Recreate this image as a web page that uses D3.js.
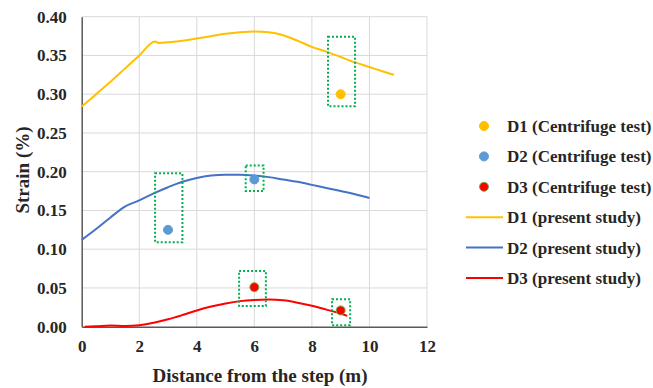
<!DOCTYPE html>
<html>
<head>
<meta charset="utf-8">
<script src="https://cdn.jsdelivr.net/npm/d3@7"></script>
<style>
  body { margin: 0; background: #fff; }
</style>
</head>
<body>
<svg id="chart" width="653" height="388"></svg>
<script>
// series data (distance m, strain %)
var d1Line = [[0,0.284],[0.5,0.300],[1,0.316],[1.5,0.333],[2,0.350],[2.55,0.368],[2.7,0.366],[3,0.367],[3.5,0.369],[4,0.372],[4.5,0.375],[5,0.378],[5.5,0.380],[6,0.381],[6.5,0.380],[7,0.376],[7.5,0.369],[8,0.361],[8.5,0.355],[9,0.348],[9.5,0.341],[10,0.335],[10.5,0.329],[10.85,0.325]];
var d2Line = [[0,0.112],[0.5,0.126],[1,0.141],[1.5,0.155],[2,0.163],[2.5,0.172],[3,0.180],[3.5,0.187],[4,0.192],[4.5,0.195],[5,0.196],[5.5,0.196],[6,0.195],[6.5,0.193],[7,0.190],[7.5,0.187],[8,0.183],[8.5,0.179],[9,0.175],[9.5,0.171],[10,0.166]];
var d3Line = [[0.1,0],[0.5,0.0005],[1,0.0015],[1.5,0.001],[2,0.002],[2.5,0.005],[3,0.0095],[3.5,0.015],[4,0.021],[4.5,0.026],[5,0.030],[5.5,0.033],[6,0.0345],[6.5,0.035],[7,0.034],[7.5,0.031],[8,0.027],[8.5,0.022],[9,0.017],[9.23,0.014]];

var d1Test = [[9,0.300]];
var d2Test = [[3,0.125],[6,0.190]];
var d3Test = [[6,0.051],[9,0.021]];

// dotted highlight boxes [x0, x1, y0, y1]
var boxes = [[8.56,9.5,0.2845,0.374],[2.55,3.5,0.109,0.198],[5.7,6.32,0.175,0.208],[5.47,6.4,0.0267,0.072],[8.7,9.33,0.002,0.0354]];

var xTicks = [0,2,4,6,8,10,12];
var yTicks = [0,0.05,0.10,0.15,0.20,0.25,0.30,0.35,0.40];

var legendItems = [
  {name:"D1 (Centrifuge test)", type:"dot", color:"#FFC000", stroke:"#FFC000"},
  {name:"D2 (Centrifuge test)", type:"dot", color:"#5B9BD5", stroke:"#5B9BD5"},
  {name:"D3 (Centrifuge test)", type:"dot", color:"#FF0000", stroke:"#70AD47"},
  {name:"D1 (present study)", type:"line", color:"#FFC000"},
  {name:"D2 (present study)", type:"line", color:"#4472C4"},
  {name:"D3 (present study)", type:"line", color:"#FF0000"}
];

var FONT = "'Liberation Serif', 'Times New Roman', Tinos, 'DejaVu Serif', serif";

var svg = d3.select("#chart");
var x = d3.scaleLinear().domain([0,12]).range([81.7,427]);
var y = d3.scaleLinear().domain([0,0.4]).range([326.7,16.7]);

// grid
svg.append("g").selectAll("line.v").data(xTicks.slice(1)).enter().append("line")
  .attr("x1", d => x(d)).attr("x2", d => x(d))
  .attr("y1", y(0)).attr("y2", y(0.4))
  .attr("stroke", "#d9d9d9").attr("stroke-width", 1);
svg.append("g").selectAll("line.h").data(yTicks.slice(1)).enter().append("line")
  .attr("x1", x(0)).attr("x2", x(12))
  .attr("y1", d => y(d)).attr("y2", d => y(d))
  .attr("stroke", "#d9d9d9").attr("stroke-width", 1);

// axes
var xAxis = svg.append("g").attr("transform", "translate(0," + y(0) + ")")
  .call(d3.axisBottom(x).tickValues(xTicks).tickSize(0).tickPadding(13).tickFormat(d3.format("d")));
xAxis.select(".domain").attr("stroke", "#595959").attr("stroke-width", 1.5);

var yAxis = svg.append("g").attr("transform", "translate(" + x(0) + ",0)")
  .call(d3.axisLeft(y).tickValues(yTicks).tickSize(0).tickPadding(15).tickFormat(d3.format(".2f")));
yAxis.select(".domain").attr("stroke", "#595959").attr("stroke-width", 1.5);

// lines
var line = d3.line().x(d => x(d[0])).y(d => y(d[1])).curve(d3.curveMonotoneX);
[[d1Line,"#FFC000"],[d2Line,"#4472C4"],[d3Line,"#FF0000"]].forEach(function (s) {
  svg.append("path").datum(s[0]).attr("d", line)
    .attr("fill", "none").attr("stroke", s[1]).attr("stroke-width", 2);
});

// boxes
svg.append("g").selectAll("rect").data(boxes).enter().append("rect")
  .attr("x", d => x(d[0])).attr("width", d => x(d[1]) - x(d[0]))
  .attr("y", d => y(d[3])).attr("height", d => y(d[2]) - y(d[3]))
  .attr("fill", "none").attr("stroke", "#00B050").attr("stroke-width", 2)
  .attr("stroke-dasharray", "2,2");

// test points
[[d1Test,"#FFC000","#FFC000"],[d2Test,"#5B9BD5","#5B9BD5"],[d3Test,"#FF0000","#70AD47"]].forEach(function (s) {
  svg.append("g").selectAll("circle").data(s[0]).enter().append("circle")
    .attr("cx", d => x(d[0])).attr("cy", d => y(d[1])).attr("r", 4.5)
    .attr("fill", s[1]).attr("stroke", s[2]).attr("stroke-width", 1);
});

// titles
svg.append("text").attr("x", 260).attr("y", 382).attr("text-anchor", "middle")
  .attr("class", "title").text("Distance from the step (m)");
svg.append("text").attr("transform", "translate(29,170) rotate(-90)").attr("text-anchor", "middle")
  .attr("class", "title").text("Strain (%)");

// legend
var lg = svg.append("g").selectAll("g").data(legendItems).enter().append("g")
  .attr("transform", (d, i) => "translate(0," + (126 + i * 30.4) + ")");
lg.filter(d => d.type === "dot").append("circle")
  .attr("cx", 484).attr("cy", 0).attr("r", 4.5)
  .attr("fill", d => d.color).attr("stroke", d => d.stroke).attr("stroke-width", 1);
lg.filter(d => d.type === "line").append("line")
  .attr("x1", 466).attr("x2", 503).attr("y1", 0).attr("y2", 0)
  .attr("stroke", d => d.color).attr("stroke-width", 2);
lg.append("text").attr("x", 507).attr("y", 6).attr("class", "leg").text(d => d.name);

// font for every text
svg.selectAll("g[font-family]").attr("font-family", null).attr("font-size", null);
svg.selectAll("text")
  .style("font-family", FONT)
  .style("font-weight", "bold")
  .style("fill", "#262626");
svg.selectAll(".tick text").style("font-size", "17px");
svg.selectAll("text.title").style("font-size", "19px");
svg.selectAll("text.leg").style("font-size", "17px");
</script>
</body>
</html>
